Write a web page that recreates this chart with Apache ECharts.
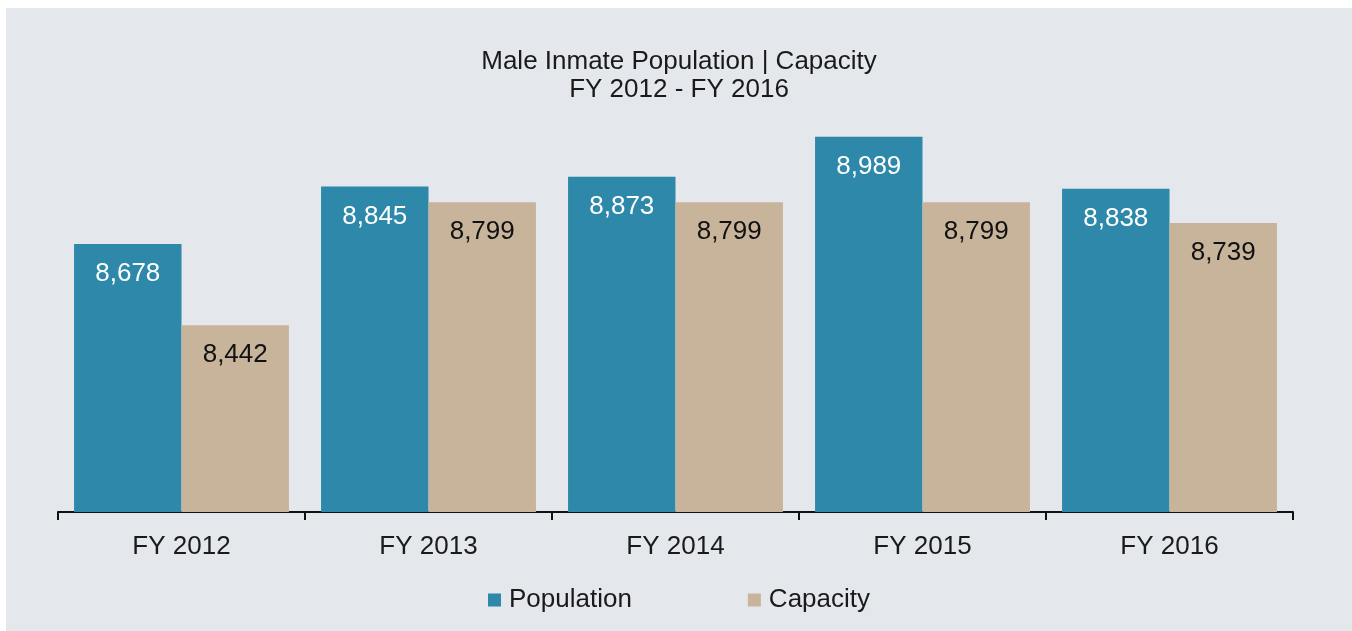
<!DOCTYPE html>
<html>
<head>
<meta charset="utf-8">
<script src="https://cdn.jsdelivr.net/npm/echarts@6/dist/echarts.min.js"></script>
<style>
  html, body { margin: 0; padding: 0; background: #ffffff; }
  #main { position: absolute; left: 6px; top: 8px; width: 1346px; height: 623px; background: #e4e7eb; }
</style>
</head>
<body>
<div id="main"></div>
<script>
var years = ["FY 2012", "FY 2013", "FY 2014", "FY 2015", "FY 2016"];
var population = [8678, 8845, 8873, 8989, 8838];
var capacity = [8442, 8799, 8799, 8799, 8739];

var font = "Liberation Sans, Arial, sans-serif";

function fmt(p) {
    return p.value.toLocaleString("en-US");
}

var option = {
    backgroundColor: "transparent",
    textStyle: { fontFamily: font },
    title: {
        text: "Male Inmate Population | Capacity\nFY 2012 - FY 2016",
        left: "center",
        top: 35,
        textStyle: { fontFamily: font, fontSize: 26, fontWeight: "normal", color: "#1a1a1a", lineHeight: 28 }
    },
    legend: {
        data: ["Population", "Capacity"],
        left: "center",
        top: 574,
        icon: "rect",
        itemWidth: 13,
        itemHeight: 13,
        itemGap: 116,
        textStyle: { fontFamily: font, fontSize: 26, color: "#1a1a1a", padding: [0, 0, 0, 3] }
    },
    grid: { left: 52, right: 59, top: 125, bottom: 119 },
    xAxis: {
        type: "category",
        data: years,
        axisLine: { lineStyle: { color: "#111", width: 2 } },
        axisTick: { show: true, length: 8, lineStyle: { color: "#111", width: 2 } },
        axisLabel: { fontFamily: font, fontSize: 26, color: "#1a1a1a", margin: 22 }
    },
    yAxis: {
        type: "value",
        min: 7900,
        max: 9000,
        show: false
    },
    series: [{
        name: "Population",
        type: "bar",
        data: population,
        barGap: 0,
        barCategoryGap: "13%",
        itemStyle: { color: "#2e88aa" },
        label: {
            show: true, position: "insideTop", distance: 17,
            formatter: fmt, fontFamily: font, fontSize: 26, color: "#ffffff"
        }
    }, {
        name: "Capacity",
        type: "bar",
        data: capacity,
        barGap: 0,
        barCategoryGap: "13%",
        itemStyle: { color: "#c8b49a" },
        label: {
            show: true, position: "insideTop", distance: 17,
            formatter: fmt, fontFamily: font, fontSize: 26, color: "#111111"
        }
    }]
};

echarts.init(document.getElementById("main")).setOption(option);
</script>
</body>
</html>
